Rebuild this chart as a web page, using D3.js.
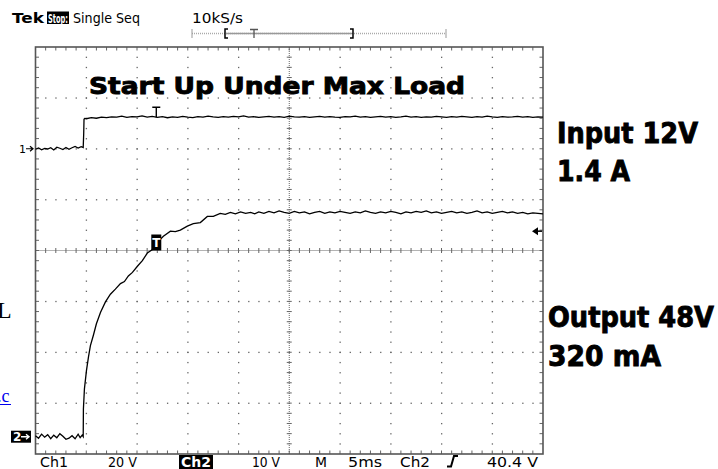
<!DOCTYPE html>
<html><head><meta charset="utf-8">
<script src="https://cdn.jsdelivr.net/npm/d3@7"></script>
<style>body{margin:0;background:#fff}svg{display:block}</style>
</head><body>
<svg id="c" width="718" height="469"></svg>
<script>
// ---- data (time in ms, values in volts) ----
const ch1Time = [0,0.3,0.6,0.9,1.2,1.5,1.8,2.1,2.4,2.7,3.0,3.3,3.6,3.9,4.2,4.5,4.7,4.75,4.78,4.85,
  5.0,5.5,6.0,6.5,7.0,7.5,8.0,8.5,9.0,9.5,10.0,10.5,11.0,11.5,12.0,12.5,13.0,13.5,14.0,14.5,15.0,15.5,16.0,16.5,17.0,17.5,18.0,18.5,19.0,19.5,
  20.0,20.5,21.0,21.5,22.0,22.5,23.0,23.5,24.0,24.5,25.0,25.5,26.0,26.5,27.0,27.5,28.0,28.5,29.0,29.5,
  30.0,30.5,31.0,31.5,32.0,32.5,33.0,33.5,34.0,34.5,35.0,35.5,36.0,36.5,37.0,37.5,38.0,38.5,39.0,39.5,
  40.0,40.5,41.0,41.5,42.0,42.5,43.0,43.5,44.0,44.5,45.0,45.5,46.0,46.5,47.0,47.5,48.0,48.5,49.0,49.5,50.0];
const ch1Volts = [-0.2,0.3,-0.4,0.1,-0.1,0.4,-0.5,0.6,0.2,-0.3,0.5,-0.2,0.4,0.9,0.3,0.8,0.5,6.0,11.6,11.9,
  11.8,12.2,12.0,12.4,12.2,12.5,12.4,12.8,12.3,12.6,12.5,12.9,12.4,12.7,12.3,12.6,12.2,12.5,12.3,12.7,12.4,12.2,12.6,12.4,12.8,12.5,12.3,12.6,12.4,12.7,
  12.5,12.9,12.4,12.6,12.3,12.5,12.7,12.4,12.6,12.3,12.8,12.5,12.4,12.6,12.3,12.5,12.7,12.4,12.6,12.4,
  12.3,12.6,12.5,12.8,12.4,12.6,12.3,12.5,12.7,12.4,12.6,12.3,12.5,12.8,12.4,12.6,12.3,12.5,12.4,12.7,
  12.5,12.3,12.6,12.4,12.7,12.5,12.3,12.6,12.4,12.8,12.5,12.3,12.6,12.4,12.5,12.7,12.4,12.6,12.3,12.5,12.4];
const ch2Time = [0,0.3,0.6,0.9,1.2,1.5,1.8,2.1,2.4,2.7,3.0,3.3,3.6,3.9,4.2,4.4,4.6,4.7,
  4.72,4.82,5.02,5.22,5.41,5.71,6.0,6.4,6.89,7.38,7.87,8.37,8.76,9.15,9.55,10.04,10.53,11.02,11.52,12.0,12.6,13.29,13.78,14.27,14.96,15.55,16.24,16.93,17.52,18.2,18.7,19.2,19.7,20.2,20.7,21.2,21.6,
  22.0,22.5,23.0,23.5,24.0,24.5,25.0,25.5,26.0,26.5,27.0,27.5,28.0,28.5,29.0,29.5,
  30.0,30.5,31.0,31.5,32.0,32.5,33.0,33.5,34.0,34.5,35.0,35.5,36.0,36.5,37.0,37.5,38.0,38.5,39.0,39.5,
  40.0,40.5,41.0,41.5,42.0,42.5,43.0,43.5,44.0,44.5,45.0,45.5,46.0,46.5,47.0,47.5,48.0,48.5,49.0,49.5,50.0];
const ch2Volts = [0.2,-0.3,0.5,-0.1,0.4,-0.4,0.3,-0.2,0.6,0.1,-0.5,-0.3,0.2,-0.4,0.5,-0.2,0.3,0.0,
  5.5,9.4,13.0,15.7,17.9,20.0,22.2,24.4,26.5,28.0,29.0,30.1,30.5,31.6,32.3,33.5,34.6,36.1,36.8,38.2,39.4,40.4,40.3,40.6,41.4,41.9,42.1,43.3,43.3,43.9,43.7,44.1,43.8,44.2,43.9,44.1,43.8,
  44.2,43.9,44.3,44.0,44.4,44.1,43.9,44.3,44.0,44.2,43.8,44.1,44.3,43.9,44.2,44.0,
  44.3,44.1,43.9,44.2,44.0,44.4,44.1,43.9,44.2,44.0,44.3,44.1,43.8,44.2,44.0,44.3,44.1,44.4,44.0,44.2,
  43.9,44.1,44.3,44.0,44.2,43.9,44.1,44.4,44.0,44.2,43.9,44.1,44.3,44.0,44.2,43.9,44.1,43.8,44.0,43.9,43.8];

const ch1Offset = 2.0, ch1VoltsPerDiv = 20;
const ch2Offset = -3.66, ch2VoltsPerDiv = 10;
const triggerLevel = 40.4, triggerTime = 11.9;
const headerParts = ["Tek", "Stop:", "Single Seq", "10kS/s"];
const footerParts = ["Ch1", "20 V", "Ch2", "10 V", "M", "5ms", "Ch2", "40.4 V"];
const titleText = "Start Up Under Max Load";
const sideLabels = ["Input 12V", "1.4 A", "Output 48V", "320 mA"];

// ---- drawing ----
const svg = d3.select("#c");
const L = 35.5, R = 543, T = 47, B = 454;
const x = d3.scaleLinear().domain([0, 50]).range([L, R]);
const y = d3.scaleLinear().domain([-4, 4]).range([B, T]);
const xd = d3.scaleLinear().domain([0, 10]).range([L, R]);
const gridCol = "#666";

const g = svg.append("g");
// dotted grid lines
for (let i = 1; i < 10; i++) {
  if (i === 5) continue;
  g.selectAll(null).data(d3.range(1, 40)).enter().append("rect")
    .attr("x", xd(i) - 0.5).attr("y", d => y(-4 + d * 0.2) - 0.5)
    .attr("width", 1.3).attr("height", 1.3).attr("fill", gridCol);
}
for (let j = -3; j <= 3; j++) {
  if (j === 0) continue;
  g.selectAll(null).data(d3.range(1, 50)).enter().append("rect")
    .attr("x", d => xd(d * 0.2) - 0.5).attr("y", y(j) - 0.5)
    .attr("width", 1.3).attr("height", 1.3).attr("fill", gridCol);
}
// center crosshair
g.append("line").attr("x1", L).attr("x2", R).attr("y1", y(0)).attr("y2", y(0))
  .attr("stroke", gridCol).attr("stroke-dasharray", "1,1");
g.append("line").attr("x1", xd(5)).attr("x2", xd(5)).attr("y1", T).attr("y2", B)
  .attr("stroke", gridCol).attr("stroke-dasharray", "1,1");
g.selectAll(null).data(d3.range(1, 50)).enter().append("line")
  .attr("x1", d => xd(d * 0.2)).attr("x2", d => xd(d * 0.2))
  .attr("y1", y(0) - 2.5).attr("y2", y(0) + 2.5).attr("stroke", gridCol);
g.selectAll(null).data(d3.range(1, 40)).enter().append("line")
  .attr("y1", d => y(-4 + d * 0.2)).attr("y2", d => y(-4 + d * 0.2))
  .attr("x1", xd(5) - 2.5).attr("x2", xd(5) + 2.5).attr("stroke", gridCol);
// frame ticks
g.selectAll(null).data(d3.range(1, 50)).enter().append("line")
  .attr("x1", d => xd(d * 0.2)).attr("x2", d => xd(d * 0.2))
  .attr("y1", T).attr("y2", T + 3.5).attr("stroke", gridCol);
g.selectAll(null).data(d3.range(1, 50)).enter().append("line")
  .attr("x1", d => xd(d * 0.2)).attr("x2", d => xd(d * 0.2))
  .attr("y1", B).attr("y2", B - 3.5).attr("stroke", gridCol);
g.selectAll(null).data(d3.range(1, 40)).enter().append("line")
  .attr("y1", d => y(-4 + d * 0.2)).attr("y2", d => y(-4 + d * 0.2))
  .attr("x1", L).attr("x2", L + 3.5).attr("stroke", gridCol);
g.selectAll(null).data(d3.range(1, 40)).enter().append("line")
  .attr("y1", d => y(-4 + d * 0.2)).attr("y2", d => y(-4 + d * 0.2))
  .attr("x1", R).attr("x2", R - 3.5).attr("stroke", gridCol);
// frame
g.append("rect").attr("x", L).attr("y", T).attr("width", R - L).attr("height", B - T)
  .attr("fill", "none").attr("stroke", "#555").attr("stroke-width", 1.6);

// traces
const line1 = d3.line().x((d, i) => x(ch1Time[i])).y(d => y(ch1Offset + d / ch1VoltsPerDiv));
const line2 = d3.line().x((d, i) => x(ch2Time[i])).y(d => y(ch2Offset + d / ch2VoltsPerDiv));
svg.append("path").attr("d", line1(ch1Volts)).attr("fill", "none").attr("stroke", "#000").attr("stroke-width", 1.3);
svg.append("path").attr("d", line2(ch2Volts)).attr("fill", "none").attr("stroke", "#000").attr("stroke-width", 1.3);

// trigger markers
const tx = x(triggerTime);
const ch1Top = y(ch1Offset + 12.4 / ch1VoltsPerDiv);
svg.append("path").attr("d", `M${tx-4},${ch1Top-10}H${tx+4}M${tx},${ch1Top-10}V${ch1Top}`)
  .attr("stroke", "#000").attr("stroke-width", 1.4);
svg.append("rect").attr("x", tx - 5).attr("y", y(0) - 16).attr("width", 10).attr("height", 16).attr("fill", "#000");
svg.append("text").attr("x", tx).attr("y", y(0) - 3.5).attr("text-anchor", "middle")
  .attr("font-family", "DejaVu Sans").attr("font-weight", "bold").attr("font-size", 12).attr("fill", "#fff").text("T");
const ty = y(ch2Offset + triggerLevel / ch2VoltsPerDiv);
svg.append("path").attr("d", `M${R-11},${ty}L${R-5},${ty-4}V${ty+4}Z`).attr("fill", "#000");
svg.append("line").attr("x1", R - 6).attr("x2", R - 1).attr("y1", ty).attr("y2", ty).attr("stroke", "#000").attr("stroke-width", 1.5);

// channel ground markers
const g1 = y(ch1Offset), g2 = y(ch2Offset);
svg.append("text").attr("x", 19).attr("y", g1 + 4).attr("font-family", "DejaVu Sans").attr("font-size", 11).text("1");
svg.append("path").attr("d", `M26,${g1}H33M30,${g1-2.5}L33,${g1}L30,${g1+2.5}`).attr("stroke", "#000").attr("fill", "none").attr("stroke-width", 1.2);
svg.append("rect").attr("x", 11).attr("y", g2 - 6).attr("width", 20).attr("height", 12).attr("fill", "#000");
svg.append("text").attr("x", 13).attr("y", g2 + 4.5).attr("font-family", "DejaVu Sans").attr("font-weight", "bold").attr("font-size", 12).attr("fill", "#fff").text("2");
svg.append("path").attr("d", `M21,${g2}H29M26,${g2-2.5}L29,${g2}L26,${g2+2.5}`).attr("stroke", "#fff").attr("fill", "none").attr("stroke-width", 1.4);

// header
const hf = "DejaVu Sans";
svg.append("text").attr("x", 12).attr("y", 23).attr("font-family", hf).attr("font-weight", "bold")
  .attr("font-size", 14).attr("textLength", 32).attr("lengthAdjust", "spacingAndGlyphs").text(headerParts[0]);
svg.append("rect").attr("x", 47).attr("y", 11.5).attr("width", 22).attr("height", 12.5).attr("fill", "#000");
svg.append("text").attr("x", 48).attr("y", 22.5).attr("font-family", hf).attr("font-weight", "bold").attr("fill", "#fff")
  .attr("font-size", 13).attr("textLength", 20).attr("lengthAdjust", "spacingAndGlyphs").text(headerParts[1]);
svg.append("text").attr("x", 73).attr("y", 23).attr("font-family", hf).attr("font-size", 14)
  .attr("textLength", 67).attr("lengthAdjust", "spacingAndGlyphs").text(headerParts[2]);
svg.append("text").attr("x", 192).attr("y", 23).attr("font-family", hf).attr("font-size", 14)
  .attr("textLength", 51).attr("lengthAdjust", "spacingAndGlyphs").text(headerParts[3]);
// record bar
svg.append("line").attr("x1", 192).attr("x2", 446).attr("y1", 33.5).attr("y2", 33.5).attr("stroke", "#aaa").attr("stroke-width", 1.5).attr("stroke-dasharray", "1,1");
svg.append("line").attr("x1", 226).attr("x2", 352).attr("y1", 33.5).attr("y2", 33.5).attr("stroke", "#999").attr("stroke-width", 1.5);
[192, 446].forEach(v => svg.append("line").attr("x1", v).attr("x2", v).attr("y1", 29).attr("y2", 38).attr("stroke", "#999").attr("stroke-width", 1));
svg.append("path").attr("d", "M228,29H225V38H228M350,29H353V38H350").attr("fill", "none").attr("stroke", "#000").attr("stroke-width", 1.5);
svg.append("path").attr("d", "M250,29.5H258M254,29.5V38").attr("fill", "none").attr("stroke", "#555").attr("stroke-width", 1.3);

// footer
const fy = 466.5, ff = "DejaVu Sans";
const fpos = [[40, 28], [108, 29], [181, 30], [252, 28], [315, 12], [348, 34], [400, 30], [487, 51]];
footerParts.forEach((t, i) => {
  if (i === 2) svg.append("rect").attr("x", 179).attr("y", 455).attr("width", 34).attr("height", 14).attr("fill", "#000");
  svg.append("text").attr("x", fpos[i][0]).attr("y", fy).attr("font-family", ff).attr("font-size", 14.5)
    .attr("fill", i === 2 ? "#fff" : "#000").attr("font-weight", i === 2 ? "bold" : "normal")
    .attr("textLength", fpos[i][1]).attr("lengthAdjust", "spacingAndGlyphs").text(t);
});
svg.append("path").attr("d", "M447,466.5H451L454,456H458").attr("fill", "none").attr("stroke", "#000").attr("stroke-width", 2);

// big labels
const big = (t, xx, yy, w, fs) => svg.append("text").attr("x", xx).attr("y", yy)
  .attr("font-family", "DejaVu Sans").attr("font-weight", "bold").attr("font-size", fs)
  .attr("stroke", "#000").attr("stroke-width", 0.9).attr("textLength", w).attr("lengthAdjust", "spacingAndGlyphs").text(t);
big(titleText, 89, 93.5, 376, 23);
big(sideLabels[0], 557, 142.5, 141, 28);
big(sideLabels[1], 557, 181, 73, 28);
big(sideLabels[2], 548, 326.5, 166, 28);
big(sideLabels[3], 548, 365.5, 113, 28);

// page fragments at left edge
svg.append("text").attr("x", -3).attr("y", 318).attr("font-family", "Liberation Serif").attr("font-size", 24).text("L");
svg.append("text").attr("x", -3).attr("y", 402).attr("font-family", "Liberation Serif").attr("font-size", 18).attr("fill", "#0000ee").text(".c");
svg.append("line").attr("x1", 0).attr("x2", 11).attr("y1", 404.5).attr("y2", 404.5).attr("stroke", "#0000ee");
</script>
</body></html>
